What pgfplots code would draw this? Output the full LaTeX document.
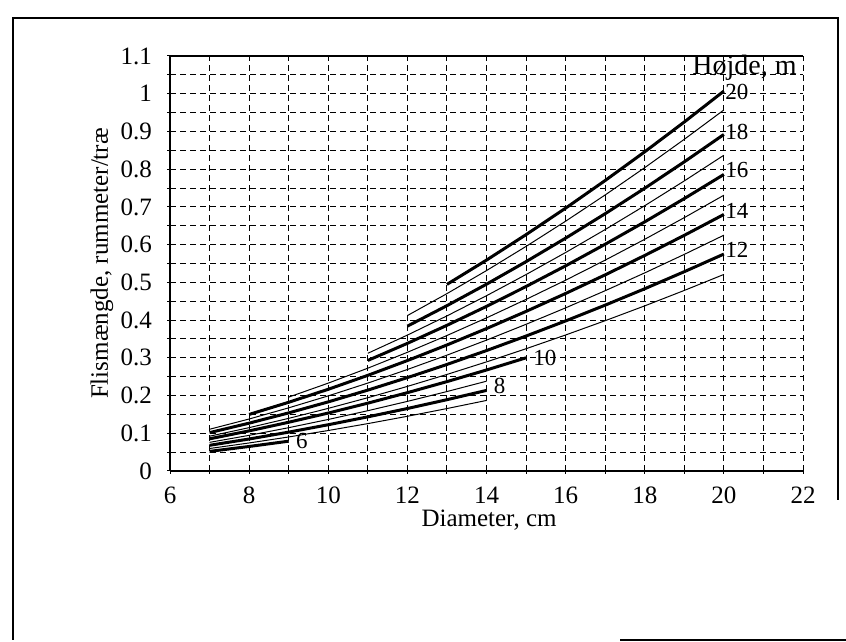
\documentclass[border=0pt]{standalone}
\usepackage{fontspec}
\setmainfont{Liberation Serif}
\usepackage{pgfplots}
\pgfplotsset{compat=1.18}

\begin{document}
\begin{tikzpicture}
\useasboundingbox (0,0) rectangle (423pt,321pt);
% frame of the scanned page
\draw[line width=0.6pt] (6.5pt,1pt) -- (6.5pt,312pt) -- (419pt,312pt) -- (419pt,71pt);
\draw[line width=0.6pt] (310pt,1pt) -- (423pt,1pt);

\begin{axis}[
    at={(85pt,85.5pt)}, anchor=south west, scale only axis,
    width=316.5pt, height=207.5pt,
    xmin=6, xmax=22, ymin=0, ymax=1.1,
    axis x line*=bottom, axis y line*=left,
    axis line style={line width=0.8pt},
    xtick={6,8,10,12,14,16,18,20,22},
    xticklabels={6,8,10,12,14,16,18,20,22},
    minor xtick={7,9,11,13,15,17,19,21},
    ytick={0,0.1,0.2,0.3,0.4,0.5,0.6,0.7,0.8,0.9,1,1.1},
    yticklabels={0,0.1,0.2,0.3,0.4,0.5,0.6,0.7,0.8,0.9,1,1.1},
    minor ytick={0.05,0.15,0.25,0.35,0.45,0.55,0.65,0.75,0.85,0.95,1.05},
    grid=both,
    grid style={black, line width=0.5pt, dash pattern=on 3pt off 2pt},
    minor grid style={black, line width=0.5pt, dash pattern=on 3pt off 2pt},
    tick align=center, major tick length=3pt, minor tick length=3pt,
    tick style={black, line width=0.5pt},
    ticklabel style={font=\fontsize{12.5}{14}\selectfont},
    xticklabel style={yshift=-3pt},
    yticklabel style={xshift=-4pt},
    xlabel={Diameter, cm},
    ylabel={Flismængde, rummeter/træ},
    label style={font=\fontsize{12.5}{14}\selectfont},
    xlabel style={at={(axis description cs:0.504,-0.134)}, anchor=base},
    ylabel style={at={(axis description cs:-0.1074,0.5)}, anchor=center},
    clip=false,
    every axis plot/.append style={black, mark=none},
]
\draw[line width=0.8pt] (rel axis cs:0,1) -- (rel axis cs:1,1);

% height 6 m
\addplot[line width=1.5pt] coordinates {(7,0.052)(8,0.065)(9,0.079)};
% 7 m
\addplot[line width=0.5pt] coordinates {(7,0.0596)(8,0.0743)(9,0.0902)(10,0.1073)(11,0.1256)(12,0.1450)(13,0.1655)(14,0.187)};
% 8 m
\addplot[line width=1.5pt] coordinates {(7,0.0681)(8,0.0848)(9,0.1030)(10,0.1226)(11,0.1435)(12,0.1656)(13,0.1890)(14,0.2136)};
% 9 m
\addplot[line width=0.5pt] coordinates {(7,0.0759)(8,0.0945)(9,0.1148)(10,0.1366)(11,0.1598)(12,0.1845)(13,0.2106)(14,0.238)};
% 10 m
\addplot[line width=1.5pt] coordinates {(7,0.0853)(8,0.1063)(9,0.1292)(10,0.1536)(11,0.1798)(12,0.2076)(13,0.2369)(14,0.2677)(15,0.30)};
% 11 m
\addplot[line width=0.5pt] coordinates {(7,0.0922)(8,0.1149)(9,0.1395)(10,0.1660)(11,0.1942)(12,0.2242)(13,0.2559)(14,0.2892)(15,0.3241)(16,0.3605)(17,0.3984)(18,0.4377)(19,0.4786)(20,0.521)};
% 12 m
\addplot[line width=1.5pt] coordinates {(7,0.1017)(8,0.1268)(9,0.1540)(10,0.1832)(11,0.2144)(12,0.2475)(13,0.2824)(14,0.3192)(15,0.3577)(16,0.3978)(17,0.4396)(18,0.4831)(19,0.5283)(20,0.575)};
% 13 m
\addplot[line width=0.5pt] coordinates {(7,0.1106)(8,0.1378)(9,0.1674)(10,0.1991)(11,0.2330)(12,0.2690)(13,0.3070)(14,0.3469)(15,0.3888)(16,0.4324)(17,0.4779)(18,0.5251)(19,0.5742)(20,0.625)};
% 14 m
\addplot[line width=1.5pt] coordinates {(8,0.1499)(9,0.1821)(10,0.2166)(11,0.2535)(12,0.2927)(13,0.3340)(14,0.3775)(15,0.4230)(16,0.4705)(17,0.5199)(18,0.5713)(19,0.6247)(20,0.68)};
% 15 m
\addplot[line width=0.5pt] coordinates {(9,0.1958)(10,0.2329)(11,0.2725)(12,0.3146)(13,0.3591)(14,0.4058)(15,0.4548)(16,0.5058)(17,0.5589)(18,0.6142)(19,0.6716)(20,0.731)};
% 16 m
\addplot[line width=1.5pt] coordinates {(11,0.2930)(12,0.3383)(13,0.3861)(14,0.4363)(15,0.4890)(16,0.5438)(17,0.6010)(18,0.6604)(19,0.7221)(20,0.786)};
% 17 m
\addplot[line width=0.5pt] coordinates {(11,0.3120)(12,0.3602)(13,0.4111)(14,0.4646)(15,0.5207)(16,0.5791)(17,0.6400)(18,0.7032)(19,0.7689)(20,0.837)};
% 18 m
\addplot[line width=1.5pt] coordinates {(12,0.3839)(13,0.4382)(14,0.4951)(15,0.5549)(16,0.6172)(17,0.6820)(18,0.7495)(19,0.8195)(20,0.892)};
% 19 m
\addplot[line width=0.5pt] coordinates {(12,0.4119)(13,0.4701)(14,0.5312)(15,0.5953)(16,0.6621)(17,0.7317)(18,0.8041)(19,0.8792)(20,0.957)};
% 20 m
\addplot[line width=1.5pt] coordinates {(13,0.4946)(14,0.5590)(15,0.6265)(16,0.6967)(17,0.7700)(18,0.8461)(19,0.9251)(20,1.007)};

\begin{scope}[every node/.style={anchor=west, inner sep=0.5pt, font=\fontsize{11.5}{13}\selectfont}]
\node at (axis cs:20,1.005) {20};
\node[yshift=1.5pt] at (axis cs:20,0.892) {18};
\node[yshift=2pt] at (axis cs:20,0.786) {16};
\node[yshift=2pt] at (axis cs:20,0.68) {14};
\node[yshift=2pt] at (axis cs:20,0.575) {12};
\node[xshift=3pt] at (axis cs:15,0.30) {10};
\node[xshift=3pt, yshift=2pt] at (axis cs:14,0.2136) {8};
\node[xshift=3pt] at (axis cs:9,0.079) {6};
\end{scope}
\node[anchor=base east, inner sep=0pt, font=\fontsize{14}{16}\selectfont] at (axis cs:21.85,1.05) {Højde, m};
\end{axis}
\end{tikzpicture}
\end{document}
